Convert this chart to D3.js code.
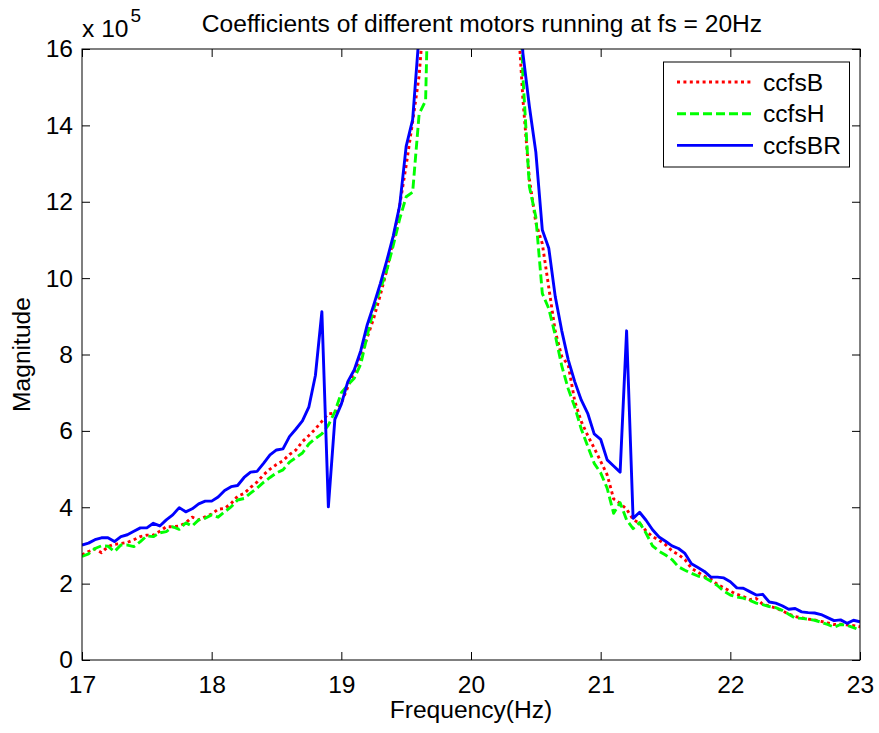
<!DOCTYPE html>
<html>
<head>
<meta charset="utf-8">
<script src="https://cdn.jsdelivr.net/npm/d3@7"></script>
<style>
  body { margin: 0; background: #fff; }
  text { font-family: "Liberation Sans", Arial, Helvetica, sans-serif; fill: #000; }
</style>
</head>
<body>
<div class="chart"></div>
<script>
// DATA ------------------------------------

// frequency grid, 0.05 Hz steps from 17 to 23 Hz
const freq = d3.range(121).map(i => +(17 + i * 0.05).toFixed(2));

// magnitudes in units of 1e5
const ccfsB = [
  2.75, 2.84, 2.91, 2.81, 2.97, 3.03, 3.05, 3.08, 3.15, 3.23,
  3.27, 3.27, 3.37, 3.49, 3.49, 3.51, 3.59, 3.74, 3.67, 3.75,
  3.82, 3.95, 3.97, 4.10, 4.29, 4.36, 4.52, 4.66, 4.85, 5.00,
  5.12, 5.22, 5.38, 5.50, 5.72, 5.88, 6.05, 6.25, 6.45, 6.46,
  6.72, 7.15, 7.55, 7.95, 8.45, 8.95, 9.55, 10.2, 11.0, 11.9,
  12.95, 14.1, 15.3, 17.5, 21, 26, 33, 44, 62, 85,
  110, 90, 62, 44, 32, 25, 20.5, 17.5, 14.7, 12.6,
  11.45, 10.9, 9.75, 8.6, 7.95, 7.72, 6.78, 6.25, 5.88, 5.55,
  5.2, 4.85, 4.22, 4.10, 3.95, 3.68, 3.58, 3.38, 3.23, 3.14,
  3.02, 2.86, 2.76, 2.63, 2.40, 2.30, 2.19, 2.12, 1.98, 1.89,
  1.80, 1.72, 1.66, 1.58, 1.61, 1.46, 1.41, 1.36, 1.29, 1.20,
  1.14, 1.10, 1.07, 1.05, 1.01, 0.97, 0.93, 0.94, 0.92, 0.90,
  0.87
];

const ccfsH = [
  2.71, 2.78, 2.92, 2.99, 2.98, 2.84, 3.01, 3.01, 2.97, 3.10,
  3.25, 3.23, 3.33, 3.36, 3.49, 3.42, 3.59, 3.51, 3.67, 3.71,
  3.80, 3.74, 3.88, 4.01, 4.19, 4.23, 4.37, 4.50, 4.65, 4.78,
  4.90, 4.98, 5.18, 5.30, 5.42, 5.66, 5.80, 5.92, 6.15, 6.50,
  7.00, 7.20, 7.38, 7.75, 8.50, 9.20, 9.70, 10.2, 10.85, 11.55,
  12.13, 12.25, 14.3, 14.65, 22, 27, 34, 45, 63, 88,
  115, 92, 64, 46, 34, 27, 23, 21, 15.3, 12.4,
  11.6, 9.6, 9.2, 8.5, 7.7, 7.1, 6.63, 6.05, 5.6, 5.15,
  4.9, 4.5, 3.84, 4.12, 3.67, 3.44, 3.60, 3.32, 2.99, 2.85,
  2.75, 2.63, 2.44, 2.35, 2.27, 2.20, 2.16, 2.06, 1.95, 1.80,
  1.70, 1.65, 1.62, 1.56, 1.49, 1.45, 1.40, 1.37, 1.30, 1.20,
  1.10, 1.09, 1.07, 1.04, 0.99, 0.93, 0.86, 0.93, 0.91, 0.85,
  0.78
];

const ccfsBR = [
  3.01, 3.06, 3.15, 3.20, 3.20, 3.10, 3.23, 3.28, 3.37, 3.46,
  3.46, 3.58, 3.51, 3.67, 3.80, 3.99, 3.88, 3.96, 4.09, 4.16,
  4.16, 4.27, 4.44, 4.54, 4.57, 4.78, 4.92, 4.94, 5.15, 5.37,
  5.50, 5.53, 5.85, 6.05, 6.26, 6.63, 7.45, 9.12, 4.01, 6.30,
  6.70, 7.29, 7.60, 8.10, 8.78, 9.30, 9.85, 10.45, 11.10, 11.90,
  13.45, 14.15, 16.40, 20, 24, 30, 38, 50, 70, 95,
  120, 100, 70, 50, 36, 28, 22.5, 19, 15.9, 14.5,
  13.3, 11.26, 10.78, 9.51, 8.62, 7.86, 7.29, 6.81, 6.46, 5.92,
  5.78, 5.24, 5.08, 4.92, 8.62, 3.71, 3.87, 3.66, 3.41, 3.22,
  3.11, 2.99, 2.92, 2.79, 2.52, 2.42, 2.32, 2.17, 2.17, 2.15,
  2.05, 1.89, 1.88, 1.79, 1.70, 1.72, 1.52, 1.49, 1.42, 1.33,
  1.35, 1.26, 1.24, 1.23, 1.19, 1.11, 1.03, 1.05, 0.96, 1.04,
  1.00
];

const xTicks = [17, 18, 19, 20, 21, 22, 23];
const yTicks = [0, 2, 4, 6, 8, 10, 12, 14, 16];

const series = [
  {name: "ccfsB",  values: ccfsB,  color: "#ff0000", dash: "3,3.4"},
  {name: "ccfsH",  values: ccfsH,  color: "#00ff00", dash: "9,4"},
  {name: "ccfsBR", values: ccfsBR, color: "#0000ff", dash: null}
];

// CHART INIT ------------------------------

const margin = ({top: 49, right: 19, bottom: 73, left: 82}),
  width = 879 - margin.left - margin.right,
  height = 733 - margin.top - margin.bottom;

const fontSize = 24.6;

const root = d3.select(".chart").append("svg")
  .attr("width", 879)
  .attr("height", 733);

const svg = root.append("g")
  .attr("transform", "translate(" + margin.left + "," + margin.top + ")");

const xScale = d3.scaleLinear().domain([17, 23]).range([0, width]);
const yScale = d3.scaleLinear().domain([0, 16]).range([height, 0]);

svg.append("clipPath").attr("id", "plot-clip")
  .append("rect")
  .attr("width", width)
  .attr("height", height);

// axes, ticks pointing inward on all four sides
const xAxis = svg.append("g")
  .attr("transform", "translate(0," + height + ")")
  .call(d3.axisBottom(xScale).tickValues(xTicks).tickFormat(d3.format("d"))
    .tickSizeInner(-8).tickSizeOuter(0).tickPadding(16));

const yAxis = svg.append("g")
  .call(d3.axisLeft(yScale).tickValues(yTicks).tickFormat(d3.format("d"))
    .tickSizeInner(-8).tickSizeOuter(0).tickPadding(9));

svg.append("g")
  .call(d3.axisTop(xScale).tickValues(xTicks).tickSizeInner(-8).tickSizeOuter(0).tickFormat(""));

svg.append("g")
  .attr("transform", "translate(" + width + ",0)")
  .call(d3.axisRight(yScale).tickValues(yTicks).tickSizeInner(-8).tickSizeOuter(0).tickFormat(""));

svg.selectAll(".domain").remove();
svg.selectAll(".tick line").attr("stroke", "#000");
svg.selectAll(".tick text")
  .style("font-size", fontSize + "px")
  .style("font-family", "'Liberation Sans', Arial, sans-serif");

// lines
const line = d3.line()
  .x((d, i) => xScale(freq[i]))
  .y(d => yScale(d));

const plot = svg.append("g").attr("clip-path", "url(#plot-clip)");

plot.selectAll(".series")
  .data(series)
  .enter().append("path")
  .attr("class", "series")
  .attr("fill", "none")
  .attr("stroke", d => d.color)
  .attr("stroke-width", 2.9)
  .attr("stroke-dasharray", d => d.dash)
  .attr("stroke-linejoin", "round")
  .attr("d", d => line(d.values));

// frame
svg.append("rect")
  .attr("width", width)
  .attr("height", height)
  .attr("fill", "none")
  .attr("stroke", "#000")
  .attr("stroke-width", 1);

// titles
root.append("text")
  .attr("x", 482)
  .attr("y", 32)
  .attr("text-anchor", "middle")
  .style("font-size", fontSize + "px")
  .text("Coefficients of different motors running at fs = 20Hz");

root.append("text")
  .attr("x", margin.left + width / 2)
  .attr("y", 718)
  .attr("text-anchor", "middle")
  .style("font-size", fontSize + "px")
  .text("Frequency(Hz)");

root.append("text")
  .attr("transform", "translate(30," + (margin.top + height / 2) + ") rotate(-90)")
  .attr("text-anchor", "middle")
  .style("font-size", fontSize + "px")
  .text("Magnitude");

// exponent label
const expo = root.append("text")
  .attr("x", 82)
  .attr("y", 37)
  .style("font-size", fontSize + "px");
expo.append("tspan").text("x 10");
expo.append("tspan")
  .attr("dx", 2)
  .attr("dy", -15)
  .style("font-size", "19px")
  .text("5");

// LEGEND ----------------------------------

const legend = root.append("g").attr("transform", "translate(663.5,62)");

legend.append("rect")
  .attr("width", 186)
  .attr("height", 105)
  .attr("fill", "#fff")
  .attr("stroke", "#000")
  .attr("stroke-width", 1);

const items = legend.selectAll(".item")
  .data(series)
  .enter().append("g")
  .attr("class", "item")
  .attr("transform", (d, i) => "translate(0," + (20 + i * 31.7) + ")");

items.append("line")
  .attr("x1", 13.5)
  .attr("x2", 89.5)
  .attr("stroke", d => d.color)
  .attr("stroke-width", 2.9)
  .attr("stroke-dasharray", d => d.dash);

items.append("text")
  .attr("x", 99.5)
  .attr("dy", "0.35em")
  .style("font-size", fontSize + "px")
  .text(d => d.name);
</script>
</body>
</html>
